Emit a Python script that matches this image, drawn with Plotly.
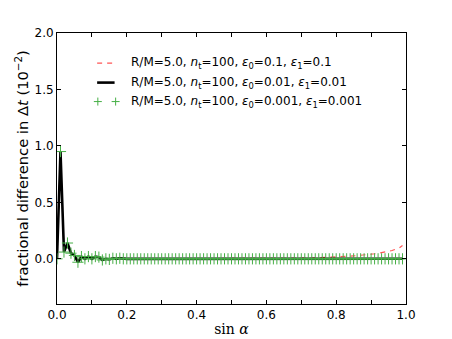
import plotly.graph_objects as go

# sin(alpha) sampling
sin_alpha = [0.00,
             0.01, 0.02, 0.03, 0.04, 0.05, 0.06, 0.07, 0.08, 0.09, 0.10,
             0.11, 0.12, 0.13, 0.14, 0.15, 0.16, 0.17, 0.18, 0.19, 0.20,
             0.21, 0.22, 0.23, 0.24, 0.25, 0.26, 0.27, 0.28, 0.29, 0.30,
             0.31, 0.32, 0.33, 0.34, 0.35, 0.36, 0.37, 0.38, 0.39, 0.40,
             0.41, 0.42, 0.43, 0.44, 0.45, 0.46, 0.47, 0.48, 0.49, 0.50,
             0.51, 0.52, 0.53, 0.54, 0.55, 0.56, 0.57, 0.58, 0.59, 0.60,
             0.61, 0.62, 0.63, 0.64, 0.65, 0.66, 0.67, 0.68, 0.69, 0.70,
             0.71, 0.72, 0.73, 0.74, 0.75, 0.76, 0.77, 0.78, 0.79, 0.80,
             0.81, 0.82, 0.83, 0.84, 0.85, 0.86, 0.87, 0.88, 0.89, 0.90,
             0.91, 0.92, 0.93, 0.94, 0.95, 0.96, 0.97, 0.98, 0.99]

# eps0 = eps1 = 0.1  (red dashed)
diff_eps_01 = [0.00,
               0.95, 0.06, 0.14, 0.05, 0.03, -0.03, 0.02, 0.00, 0.02, 0.00,
               0.02, 0.015, -0.01, 0.00, -0.005, 0.005, 0.00, 0.005, 0.00, 0.00,
               0.00, 0.00, 0.00, 0.00, 0.00, 0.00, 0.00, 0.00, 0.00, 0.00,
               0.00, 0.00, 0.00, 0.00, 0.00, 0.00, 0.00, 0.00, 0.00, 0.00,
               0.00, 0.00, 0.00, 0.00, 0.00, 0.00, 0.00, 0.00, 0.00, 0.00,
               0.00, 0.00, 0.00, 0.00, 0.00, 0.00, 0.00, 0.00, 0.00, 0.00,
               0.001, 0.001, 0.001, 0.002, 0.002, 0.002, 0.003, 0.003, 0.004, 0.005,
               0.005, 0.006, 0.007, 0.008, 0.009, 0.010, 0.011, 0.013, 0.014, 0.016,
               0.017, 0.019, 0.021, 0.023, 0.026, 0.028, 0.031, 0.034, 0.037, 0.041,
               0.045, 0.049, 0.054, 0.060, 0.066, 0.074, 0.083, 0.095, 0.118]

# eps0 = eps1 = 0.01  (black solid)
diff_eps_001 = [0.00,
                0.95, 0.06, 0.14, 0.05, 0.03, -0.03, 0.02, 0.00, 0.02, 0.00,
                0.02, 0.015, -0.01, 0.00, -0.005, 0.005, 0.00, 0.005, 0.00, 0.00,
                0.00, 0.00, 0.00, 0.00, 0.00, 0.00, 0.00, 0.00, 0.00, 0.00,
                0.00, 0.00, 0.00, 0.00, 0.00, 0.00, 0.00, 0.00, 0.00, 0.00,
                0.00, 0.00, 0.00, 0.00, 0.00, 0.00, 0.00, 0.00, 0.00, 0.00,
                0.00, 0.00, 0.00, 0.00, 0.00, 0.00, 0.00, 0.00, 0.00, 0.00,
                0.00, 0.00, 0.00, 0.00, 0.00, 0.00, 0.00, 0.00, 0.00, 0.00,
                0.00, 0.00, 0.00, 0.00, 0.00, 0.00, 0.00, 0.00, 0.00, 0.00,
                0.00, 0.00, 0.00, 0.00, 0.00, 0.00, 0.00, 0.00, 0.00, 0.00,
                0.00, 0.00, 0.00, 0.00, 0.00, 0.00, 0.00, 0.00, 0.001]

# eps0 = eps1 = 0.001  (green crosses)
diff_eps_0001 = [0.00,
                 0.95, 0.06, 0.14, 0.05, 0.03, -0.03, 0.02, 0.00, 0.02, 0.00,
                 0.02, 0.015, -0.01, 0.00, -0.005, 0.005, 0.00, 0.005, 0.00, 0.00,
                 0.00, 0.00, 0.00, 0.00, 0.00, 0.00, 0.00, 0.00, 0.00, 0.00,
                 0.00, 0.00, 0.00, 0.00, 0.00, 0.00, 0.00, 0.00, 0.00, 0.00,
                 0.00, 0.00, 0.00, 0.00, 0.00, 0.00, 0.00, 0.00, 0.00, 0.00,
                 0.00, 0.00, 0.00, 0.00, 0.00, 0.00, 0.00, 0.00, 0.00, 0.00,
                 0.00, 0.00, 0.00, 0.00, 0.00, 0.00, 0.00, 0.00, 0.00, 0.00,
                 0.00, 0.00, 0.00, 0.00, 0.00, 0.00, 0.00, 0.00, 0.00, 0.00,
                 0.00, 0.00, 0.00, 0.00, 0.00, 0.00, 0.00, 0.00, 0.00, 0.00,
                 0.00, 0.00, 0.00, 0.00, 0.00, 0.00, 0.00, 0.00, 0.00]

legend_labels = [
    "R/M=5.0, <i>n</i><sub>t</sub>=100, <i>ε</i><sub>0</sub>=0.1, <i>ε</i><sub>1</sub>=0.1",
    "R/M=5.0, <i>n</i><sub>t</sub>=100, <i>ε</i><sub>0</sub>=0.01, <i>ε</i><sub>1</sub>=0.01",
    "R/M=5.0, <i>n</i><sub>t</sub>=100, <i>ε</i><sub>0</sub>=0.001, <i>ε</i><sub>1</sub>=0.001",
]

x_ticks = [0.0, 0.1, 0.2, 0.3, 0.4, 0.5, 0.6, 0.7, 0.8, 0.9, 1.0]
x_ticktext = ["0.0", "", "0.2", "", "0.4", "", "0.6", "", "0.8", "", "1.0"]
y_ticks = [0.0, 0.5, 1.0, 1.5, 2.0]
y_ticktext = ["0.0", "0.5", "1.0", "1.5", "2.0"]

RED = "rgb(255,85,85)"
GREEN = "rgb(70,175,70)"

fig = go.Figure()
fig.add_trace(go.Scatter(x=sin_alpha, y=diff_eps_01, mode="lines",
                         line=dict(color=RED, width=1.2, dash="5px,5px")))
fig.add_trace(go.Scatter(x=sin_alpha, y=diff_eps_001, mode="lines",
                         line=dict(color="black", width=2.6)))
fig.add_trace(go.Scatter(x=sin_alpha, y=diff_eps_0001, mode="markers",
                         marker=dict(symbol="cross-thin-open", size=8, color=GREEN,
                                     line=dict(color=GREEN, width=1))))

# hand-made legend (matplotlib style, two markers per entry)
leg_y = [0.889, 0.817, 0.747]
dx, dy = 4 / 349, 4 / 271
fig.add_shape(type="line", xref="paper", yref="paper", x0=0.115, x1=0.165,
              y0=leg_y[0], y1=leg_y[0], line=dict(color=RED, width=1.2, dash="5px,5px"))
fig.add_shape(type="line", xref="paper", yref="paper", x0=0.115, x1=0.165,
              y0=leg_y[1], y1=leg_y[1], line=dict(color="black", width=2.6))
for cx in (0.117, 0.168):
    fig.add_shape(type="line", xref="paper", yref="paper", x0=cx - dx, x1=cx + dx,
                  y0=leg_y[2], y1=leg_y[2], line=dict(color=GREEN, width=1))
    fig.add_shape(type="line", xref="paper", yref="paper", x0=cx, x1=cx,
                  y0=leg_y[2] - dy, y1=leg_y[2] + dy, line=dict(color=GREEN, width=1))
for yy, lab in zip(leg_y, legend_labels):
    fig.add_annotation(xref="paper", yref="paper", x=0.206, y=yy, text=lab,
                       xanchor="left", yanchor="middle", showarrow=False,
                       font=dict(size=12, color="black"))

axis_common = dict(showline=True, linecolor="black", linewidth=1, mirror="ticks",
                   ticks="inside", ticklen=4, tickcolor="black", showgrid=False,
                   zeroline=False, automargin=False,
                   tickfont=dict(size=12, color="black"))

fig.update_xaxes(range=[0, 1], tickvals=x_ticks, ticktext=x_ticktext,
                 title=dict(text="sin <i>α</i>", standoff=2,
                            font=dict(family="DejaVu Serif", size=14, color="black")),
                 **axis_common)
fig.update_yaxes(range=[-0.4, 2.0], tickvals=y_ticks, ticktext=y_ticktext,
                 title=dict(text="fractional difference in Δ<i>t</i> (10<sup>−2</sup>)",
                            standoff=2, font=dict(size=14.7, color="black")),
                 **axis_common)

# page body adds an 8px margin, so the figure is 8px smaller than the window
fig.update_layout(width=444, height=331, showlegend=False,
                  margin=dict(l=49, r=46, t=25, b=35),
                  paper_bgcolor="white", plot_bgcolor="white",
                  font=dict(family="DejaVu Sans", color="black"))

fig.write_html("out.html")
